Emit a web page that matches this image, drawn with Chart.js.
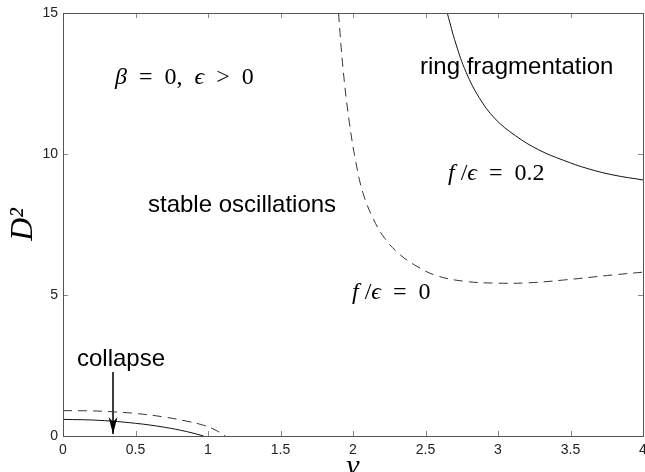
<!DOCTYPE html>
<html>
<head>
<meta charset="utf-8">
<script src="https://cdn.jsdelivr.net/npm/chart.js@4.4.0/dist/chart.umd.min.js"></script>
<style>
  html, body { margin: 0; padding: 0; background: #fff; }
</style>
</head>
<body>
<canvas id="chart" width="645" height="472"></canvas>
<script>
// frontera f/eps = 0, rama superior (discontinua)
const nuUpper0 = [1.90, 1.93, 1.97, 2.02, 2.07, 2.14, 2.22, 2.32, 2.44, 2.58, 2.78, 3.00, 3.20, 3.45, 3.79, 4.00];
const d2Upper0 = [15.0, 13.1, 11.3, 9.7, 8.6, 7.7, 7.0, 6.45, 6.02, 5.68, 5.48, 5.42, 5.43, 5.53, 5.71, 5.81];

// frontera f/eps = 0.2, rama superior (continua)
const nuUpper02 = [2.65, 2.71, 2.78, 2.87, 2.98, 3.12, 3.28, 3.45, 3.62, 3.80, 4.00];
const d2Upper02 = [15.0, 13.9, 12.9, 12.0, 11.25, 10.65, 10.15, 9.78, 9.48, 9.25, 9.08];

// colapso, f/eps = 0 (discontinua)
const nuLower0 = [0, 0.20, 0.34, 0.50, 0.69, 0.85, 0.95, 1.04, 1.12];
const d2Lower0 = [0.90, 0.89, 0.86, 0.80, 0.68, 0.53, 0.41, 0.24, 0];

// colapso, f/eps = 0.2 (continua)
const nuLower02 = [0, 0.25, 0.50, 0.70, 0.85, 0.97];
const d2Lower02 = [0.59, 0.555, 0.45, 0.31, 0.16, 0];

// flecha "collapse"
const arrowNu = [0.345, 0.345];
const arrowD2 = [2.27, 0.07];

// ticks
const xTicks = [0, 0.5, 1, 1.5, 2, 2.5, 3, 3.5, 4];
const yTicks = [0, 5, 10, 15];

const toXY = (xs, ys) => xs.map((v, i) => ({ x: v, y: ys[i] }));

const serif = '"Liberation Serif", "DejaVu Serif", serif';
const sans = '"Liberation Sans", Arial, sans-serif';
const sp = '\u2002'; // espacio ancho, como el de TeX alrededor de = y >

// dibuja texto con tramos de distinta fuente (para las expresiones matemáticas)
function drawRich(ctx, parts, x, y) {
  let cx = x;
  for (const [txt, font] of parts) {
    ctx.font = font;
    ctx.fillText(txt, cx, y);
    cx += ctx.measureText(txt).width;
  }
}

const annotations = {
  id: 'annotations',
  afterDatasetsDraw(chart) {
    const { ctx, scales: { x, y } } = chart;
    ctx.save();
    ctx.fillStyle = '#000';
    ctx.textBaseline = 'alphabetic';
    ctx.textAlign = 'left';

    ctx.font = '24px ' + sans;
    ctx.fillText('ring fragmentation', 420, 74);
    ctx.fillText('stable oscillations', 148, 212);
    ctx.fillText('collapse', 77, 366);

    const mi = 'italic 24px ' + serif;
    const mr = '24px ' + serif;
    drawRich(ctx, [['β', mi], [sp + '=' + sp + '0,' + sp, mr], ['ϵ', mi], [sp + '>' + sp + '0', mr]], 115, 84);
    drawRich(ctx, [['f', mi], [' /', mr], ['ϵ', mi], [sp + '=' + sp + '0.2', mr]], 448, 180);
    drawRich(ctx, [['f', mi], [' /', mr], ['ϵ', mi], [sp + '=' + sp + '0', mr]], 352, 299);

    // punta de flecha
    const px = x.getPixelForValue(arrowNu[1]);
    const py = y.getPixelForValue(arrowD2[1]);
    ctx.beginPath();
    ctx.moveTo(px, py);
    ctx.lineTo(px - 4.5, py - 17);
    ctx.lineTo(px, py - 12);
    ctx.lineTo(px + 4.5, py - 17);
    ctx.closePath();
    ctx.fill();
    ctx.restore();
  }
};

// marco y ticks hacia dentro en los 4 lados (estilo MATLAB)
const frameTicks = {
  id: 'frameTicks',
  afterDraw(chart) {
    const { ctx, chartArea: a, scales: { x, y } } = chart;
    ctx.save();
    ctx.lineWidth = 1;
    ctx.strokeStyle = '#888';
    const tl = 5;
    ctx.beginPath();
    for (const v of xTicks) {
      const p = Math.round(x.getPixelForValue(v)) + 0.5;
      ctx.moveTo(p, a.bottom); ctx.lineTo(p, a.bottom - tl);
      ctx.moveTo(p, a.top); ctx.lineTo(p, a.top + tl);
    }
    for (const v of yTicks) {
      const p = Math.round(y.getPixelForValue(v)) + 0.5;
      ctx.moveTo(a.left, p); ctx.lineTo(a.left + tl, p);
      ctx.moveTo(a.right, p); ctx.lineTo(a.right - tl, p);
    }
    ctx.stroke();
    ctx.strokeStyle = '#555';
    ctx.strokeRect(a.left + 0.5, a.top + 0.5, a.right - a.left, a.bottom - a.top);
    ctx.restore();
  }
};

const lineDs = (data, dashed, color, tension) => ({
  data,
  showLine: true,
  borderColor: color,
  borderWidth: 1,
  borderDash: dashed ? [9, 6] : [],
  pointRadius: 0,
  tension,
  fill: false
});

new Chart(document.getElementById('chart').getContext('2d'), {
  type: 'scatter',
  data: {
    datasets: [
      lineDs(toXY(nuUpper0, d2Upper0), true, '#333', 0.4),
      lineDs(toXY(nuUpper02, d2Upper02), false, '#111', 0.4),
      lineDs(toXY(nuLower0, d2Lower0), true, '#333', 0.4),
      lineDs(toXY(nuLower02, d2Lower02), false, '#111', 0.4),
      lineDs(toXY(arrowNu, arrowD2), false, '#222', 0)
    ]
  },
  options: {
    responsive: false,
    animation: false,
    devicePixelRatio: 1,
    layout: { padding: { top: 13, right: 2, left: 0, bottom: 0 } },
    plugins: { legend: { display: false }, tooltip: { enabled: false } },
    scales: {
      x: {
        type: 'linear', min: 0, max: 4,
        afterBuildTicks: s => { s.ticks = xTicks.map(v => ({ value: v })); },
        ticks: { font: { family: sans, size: 14 }, color: '#222', padding: 6, maxRotation: 0, callback: v => String(v) },
        grid: { display: false, drawTicks: false },
        border: { display: false },
        title: { display: true, text: 'ν', color: '#000', font: { family: serif, size: 30, style: 'italic', lineHeight: 0.3 }, padding: 0 },
        afterFit: s => { s.height = 36; s.paddingLeft = 0; s.paddingRight = 0; }
      },
      y: {
        type: 'linear', min: 0, max: 15,
        afterBuildTicks: s => { s.ticks = yTicks.map(v => ({ value: v })); },
        ticks: { font: { family: sans, size: 14 }, color: '#222', padding: 5, callback: v => String(v) },
        grid: { display: false, drawTicks: false },
        border: { display: false },
        title: { display: true, text: 'D²', color: '#000', font: { family: serif, size: 32, style: 'italic', lineHeight: 1 }, padding: { top: 8, bottom: 0 } },
        afterFit: s => { s.width = 63; s.paddingTop = 0; s.paddingBottom = 0; }
      }
    }
  },
  plugins: [annotations, frameTicks]
});
</script>
</body>
</html>
